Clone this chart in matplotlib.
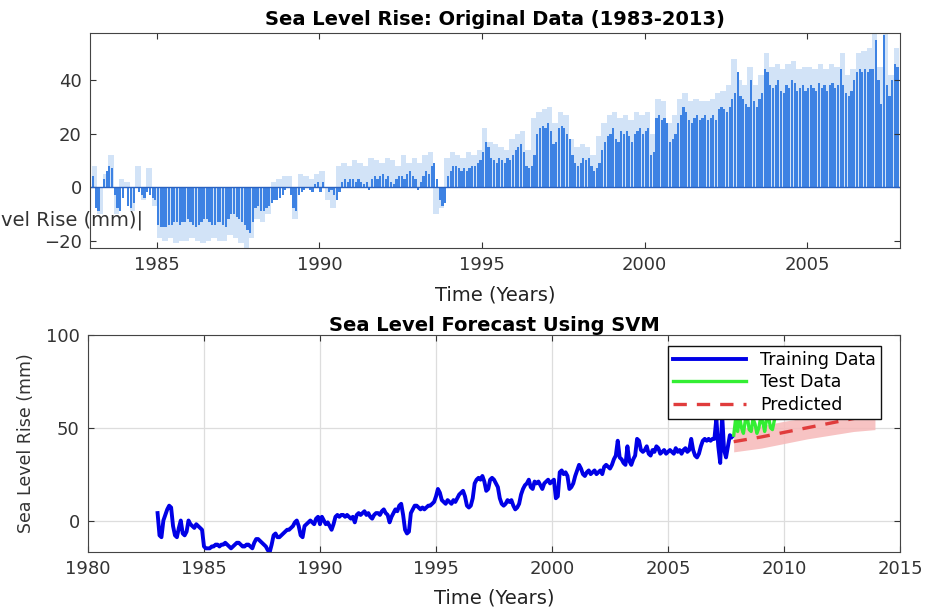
import numpy as np
import matplotlib
matplotlib.use('Agg')
import matplotlib.pyplot as plt

### DATA

# monthly sea level anomaly (mm), Jan 1983 .. Oct 2007
sea_level = {
    1983: [4, -8, -9, 0, 3, 6, 8, 7, -3, -8, -9, -4],
    1984: [0, -7, -8, -6, 0, -2, -3, -4, -2, -3, -4, -5],
    1985: [-14, -15, -15, -15, -14, -14, -13, -13, -14, -13, -13, -12],
    1986: [-13, -14, -15, -14, -13, -12, -12, -13, -14, -14, -13, -13],
    1987: [-14, -15, -12, -10, -10, -11, -12, -13, -14, -16, -17, -13],
    1988: [-8, -7, -9, -9, -8, -7, -6, -5, -5, -4, -3, -1],
    1989: [0, -3, -8, -9, -3, -2, -1, 0, -1, -2, 1, 2],
    1990: [-2, 2, 0, -2, -1, -3, -5, -2, 2, 3, 2, 3],
    1991: [3, 2, 3, 2, 1, 2, -1, 3, 4, 3, 4, 5],
    1992: [3, 4, 2, 1, 3, 4, 4, 3, 5, 6, 4, 3],
    1993: [-1, 2, 4, 6, 5, 8, 9, 3, -5, -7, -6, 4],
    1994: [6, 8, 8, 7, 6, 7, 6, 7, 8, 8, 9, 10],
    1995: [13, 17, 15, 11, 10, 9, 11, 10, 9, 11, 10, 12],
    1996: [14, 15, 16, 13, 8, 7, 8, 12, 20, 22, 23, 22],
    1997: [24, 21, 16, 17, 22, 23, 22, 20, 18, 12, 9, 8],
    1998: [9, 11, 10, 11, 8, 6, 7, 9, 14, 17, 19, 20],
    1999: [22, 18, 17, 21, 20, 21, 19, 17, 20, 21, 22, 20],
    2000: [21, 22, 12, 13, 26, 27, 25, 26, 24, 17, 18, 20],
    2001: [24, 27, 30, 28, 25, 24, 26, 27, 25, 26, 27, 25],
    2002: [26, 27, 25, 29, 30, 29, 28, 30, 33, 35, 43, 34],
    2003: [33, 31, 30, 40, 32, 30, 33, 35, 44, 43, 38, 37],
    2004: [38, 40, 36, 35, 38, 37, 40, 39, 36, 37, 38, 36],
    2005: [37, 38, 37, 36, 39, 37, 38, 36, 38, 39, 37, 38],
    2006: [44, 38, 35, 34, 36, 40, 43, 44, 43, 44, 43, 44],
    2007: [44, 55, 40, 31, 57, 38, 34, 40, 46, 45],
}

# light blue (uncertainty) extent, two-monthly
sea_level_band = {
    1983: [8, -10, 5, 12, -10, 3],
    1984: [2, -9, 8, -5, 7, -7],
    1985: [-19, -20, -19, -21, -20, -20],
    1986: [-19, -20, -21, -20, -19, -20],
    1987: [-20, -18, -19, -21, -23, -19],
    1988: [-12, -13, -10, 2, 3, 4],
    1989: [4, -12, 5, 4, 3, 5],
    1990: [6, -5, -8, 8, 9, 8],
    1991: [10, 9, 8, 11, 10, 9],
    1992: [11, 10, 8, 12, 9, 11],
    1993: [9, 12, 13, -10, -8, 11],
    1994: [13, 12, 11, 13, 12, 14],
    1995: [22, 17, 16, 15, 14, 18],
    1996: [20, 21, 14, 26, 28, 29],
    1997: [30, 24, 28, 27, 18, 15],
    1998: [16, 15, 12, 19, 24, 27],
    1999: [28, 26, 27, 25, 28, 27],
    2000: [28, 20, 33, 32, 24, 27],
    2001: [33, 35, 32, 33, 32, 32],
    2002: [33, 35, 36, 38, 48, 40],
    2003: [38, 45, 38, 42, 50, 45],
    2004: [46, 44, 46, 47, 44, 45],
    2005: [45, 44, 46, 44, 46, 45],
    2006: [50, 42, 44, 50, 51, 52],
    2007: [60, 45, 62, 42, 52],
}

# test data (monthly from Nov 2007)
test_vals = [46, 55, 48, 56, 50, 47, 54, 56, 49, 48, 55, 52,
             47, 50, 56, 53, 48, 55, 56, 50, 49, 54]

# SVM prediction with band
pred_years = [2007.83, 2009.0, 2010.0, 2011.0, 2012.0, 2013.0, 2013.92]
pred_vals = [42.5, 45.0, 47.5, 50.0, 52.5, 55.0, 56.5]
pred_lo = [37.0, 39.0, 41.5, 44.0, 46.0, 48.0, 49.0]
pred_hi = [49.0, 51.0, 53.5, 55.5, 57.0, 58.5, 59.5]

### BUILD SERIES

t_train = []
y_train = []
for yr, vals in sea_level.items():
    for m, v in enumerate(vals):
        t_train.append(yr + m / 12.0)
        y_train.append(v)
t_train = np.array(t_train)
y_train = np.array(y_train)

t_band = []
y_band = []
for yr, vals in sea_level_band.items():
    for k, v in enumerate(vals):
        t_band.append(yr + k / 6.0)
        y_band.append(v)

t_test = t_train[-1] + (np.arange(len(test_vals)) + 1) / 12.0

### FIGURE

plt.rcParams['font.family'] = 'DejaVu Sans'
fig = plt.figure(figsize=(9.27, 6.11), dpi=100)

spine_col = '#444444'
tick_col = '#333333'

## top: original data
ax1 = fig.add_axes([0.0971, 0.594, 0.8738, 0.352])
ax1.bar(t_band, y_band, width=1 / 6.0, align='edge', color='#d2e3f7', linewidth=0)
ax1.bar(t_train, y_train, width=0.068, align='edge', color='#3d82e3', linewidth=0)
ax1.axhline(0, color='#2a62c0', lw=1)
ax1.set_xlim(1982.94, 2007.86)
ax1.set_ylim(-22.8, 57.6)
ax1.set_xticks([1985, 1990, 1995, 2000, 2005])
ax1.set_yticks([-20, 0, 20, 40])
ax1.set_title('Sea Level Rise: Original Data (1983-2013)', fontsize=14,
              fontweight='bold', pad=6)
ax1.set_xlabel('Time (Years)', fontsize=14, color='#222222', labelpad=8)
ax1.tick_params(direction='in', top=True, right=True, labelsize=13,
                colors=tick_col, length=4, pad=6)
for s in ax1.spines.values():
    s.set_color(spine_col)
# misplaced y label, clipped by the figure edge as in the source
fig.text(143 / 927.0, 1 - 220 / 611.0, 'Sea Level Rise (mm)|', fontsize=14,
         ha='right', va='center', color='#333333')

## bottom: forecast
ax2 = fig.add_axes([0.0949, 0.0965, 0.876, 0.3552])
ax2.grid(True, color='#dddddd', lw=0.9)
ax2.set_axisbelow(True)
ax2.fill_between(pred_years, pred_lo, pred_hi, color='#f6b9b9', alpha=0.85, lw=0)
ax2.plot(t_train, y_train, color='#0000e6', lw=2.8, label='Training Data')
ax2.plot(t_test, test_vals, color='#33ee33', lw=2.4, label='Test Data')
ax2.plot(pred_years, pred_vals, color='#e03c3c', lw=2.4, ls=(0, (4, 3)),
         label='Predicted')
ax2.set_xlim(1980, 2015)
ax2.set_ylim(-17, 100)
ax2.set_xticks(np.arange(1980, 2016, 5))
ax2.set_yticks([0, 50, 100])
ax2.set_title('Sea Level Forecast Using SVM', fontsize=14, fontweight='bold', pad=3)
ax2.set_xlabel('Time (Years)', fontsize=14, color='#222222', labelpad=7)
ax2.set_ylabel('Sea Level Rise (mm)', fontsize=12.5, color='#333333', labelpad=8)
ax2.tick_params(direction='in', labelsize=13, colors=tick_col, length=4,
                top=True, right=True, pad=6)
for s in ax2.spines.values():
    s.set_color(spine_col)
leg = ax2.legend(loc='upper right', bbox_to_anchor=(0.977, 0.95), fontsize=12.5,
                 handlelength=4.2, borderpad=0.3, labelspacing=0.25,
                 fancybox=False, framealpha=1, borderaxespad=0)
leg.get_frame().set_edgecolor('#111111')
leg.get_frame().set_linewidth(1.0)

fig.savefig('out.png', dpi=100)
